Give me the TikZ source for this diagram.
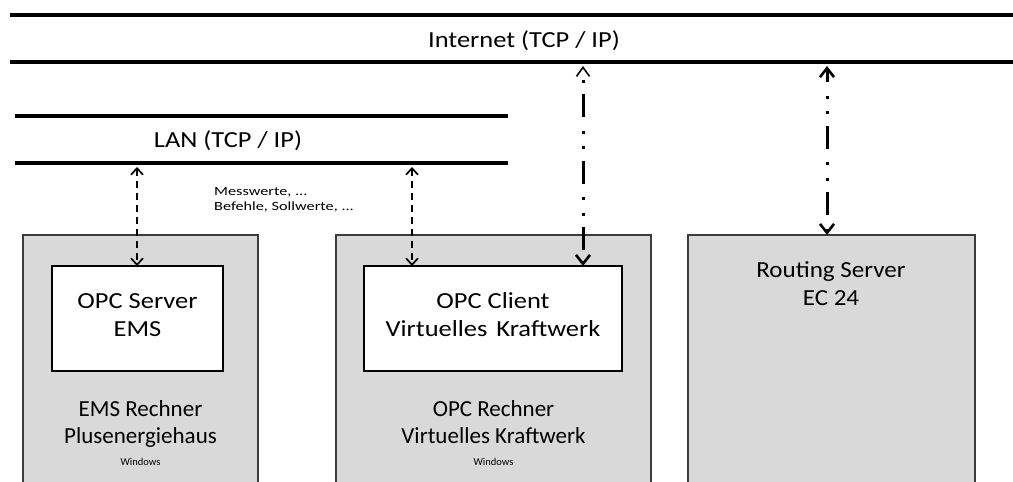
\documentclass[tikz,border=0pt]{standalone}
\usepackage{fontspec}
\setmainfont{Carlito}
\newfontfamily\wideA[FakeStretch=1.15]{Carlito}
\newfontfamily\wideB[FakeStretch=1.3]{Carlito}
\newfontfamily\wideC[FakeStretch=1.09]{Carlito}
\usetikzlibrary{arrows.meta}
\definecolor{boxgray}{RGB}{217,217,217}
\definecolor{edgegray}{RGB}{60,60,60}
\begin{document}
\begin{tikzpicture}[x=1pt,y=-1pt,
  bus/.style={line width=3.5pt},
  outerbox/.style={draw=edgegray, line width=1.4pt, fill=boxgray, anchor=north west, inner sep=0pt, outer sep=0pt},
  innerbox/.style={draw=black, line width=1.4pt, fill=white, anchor=north west, inner sep=0pt, outer sep=0pt},
  innertext/.style={font=\wideA\fontsize{23}{28}\selectfont, inner sep=0pt, anchor=base},
  bigtext/.style={font=\fontsize{23}{28}\selectfont, inner sep=0pt, anchor=base},
  routtext/.style={font=\wideC\fontsize{23}{28}\selectfont, inner sep=0pt, anchor=base},
  bustext/.style={font=\wideA\fontsize{23}{28}\selectfont, inner sep=0pt},
  smalltext/.style={font=\fontsize{10.5}{12}\selectfont, inner sep=0pt, anchor=base},
  notetext/.style={font=\wideB\fontsize{12.5}{15}\selectfont, inner sep=0pt, align=left, anchor=north west},
  lanarrow/.style={line width=2pt, dash pattern=on 7pt off 5pt,
    {Straight Barb[length=6.5pt,width=12pt,line width=1.7pt]}-{Straight Barb[length=6.5pt,width=12pt,line width=1.7pt]}},
  inetarrow/.style={line width=3pt, dash pattern=on 23pt off 13.5pt on 3pt off 12.5pt on 3pt off 11.5pt,
    {Straight Barb[length=9pt,width=14pt,line width=2.6pt]}-{Straight Barb[length=9pt,width=14pt,line width=2.6pt]}}
]
\useasboundingbox (0,0) rectangle (1013,482);
\clip (0,0) rectangle (1013,482);
\fill[white] (0,0) rectangle (1013,482);

% Internet bus
\coordinate (inetTL) at (10,15);
\coordinate (inetTR) at (1013,15);
\coordinate (inetBL) at (10,62);
\coordinate (inetBR) at (1013,62);
\draw[bus] (inetTL) -- (inetTR);
\draw[bus] (inetBL) -- (inetBR);
\node[bustext] (inettext) at (524,41) {Internet (TCP / IP)};

% LAN bus
\coordinate (lanTL) at (15,116);
\coordinate (lanTR) at (508,116);
\coordinate (lanBL) at (15,163);
\coordinate (lanBR) at (508,163);
\draw[bus] (lanTL) -- (lanTR);
\draw[bus] (lanBL) -- (lanBR);
\node[bustext] (lantext) at (228,141) {LAN (TCP / IP)};

% Outer boxes
\node[outerbox, minimum width=235pt, minimum height=270pt] (ems) at (23,235) {};
\node[outerbox, minimum width=315pt, minimum height=270pt] (opc) at (336,235) {};
\node[outerbox, minimum width=287pt, minimum height=270pt] (rout) at (688,235) {};

% Inner boxes
\node[innerbox, minimum width=171pt, minimum height=105pt] (emsin) at (52,266) {};
\node[innerbox, minimum width=258pt, minimum height=105pt] (opcin) at (364,266) {};
\node[innertext] (emsin1) at (137.5,308) {OPC Server};
\node[innertext] (emsin2) at (137.5,336) {EMS};
\node[innertext] (opcin1) at (493,308) {OPC Client};
\node[innertext] (opcin2) at (493,336) {Virtuelles\hspace{3pt} Kraftwerk};

% Outer box texts
\node[bigtext] (ems1) at (140.5,416) {EMS Rechner};
\node[bigtext] (ems2) at (140.5,443) {Plusenergiehaus};
\node[smalltext] (ems3) at (140.5,465) {Windows};
\node[bigtext] (opc1) at (493.5,416) {OPC Rechner};
\node[bigtext] (opc2) at (493.5,443) {Virtuelles Kraftwerk};
\node[smalltext] (opc3) at (493.5,465) {Windows};
\node[routtext] (rout1) at (831,277) {Routing Server};
\node[routtext] (rout2) at (831,305) {EC 24};

% Note text
\node[notetext] (note) at (214,187) {Messwerte, ...\\Befehle, Sollwerte, ...};

% Connector end points
\coordinate (a1top) at (137,167);
\coordinate (a2top) at (412,167);
\coordinate (a2bot) at (412,266);
\coordinate (a3top) at (583,66);
\coordinate (a3bot) at (583,266);
\coordinate (a4top) at (827,66);

% LAN arrows
\draw[lanarrow] (a1top) -- (emsin.north -| a1top);
\draw[lanarrow] (a2top) -- (a2bot);

% Internet arrows
\draw[inetarrow, dash phase=40.5pt,
  {Straight Barb[length=9pt,width=13pt,line width=1.6pt]}-{Straight Barb[length=9pt,width=14pt,line width=2.6pt]}]
  (a3top) -- (a3bot);
\draw[inetarrow, dash phase=10pt] (a4top) -- (rout.north -| a4top);
\end{tikzpicture}
\end{document}
